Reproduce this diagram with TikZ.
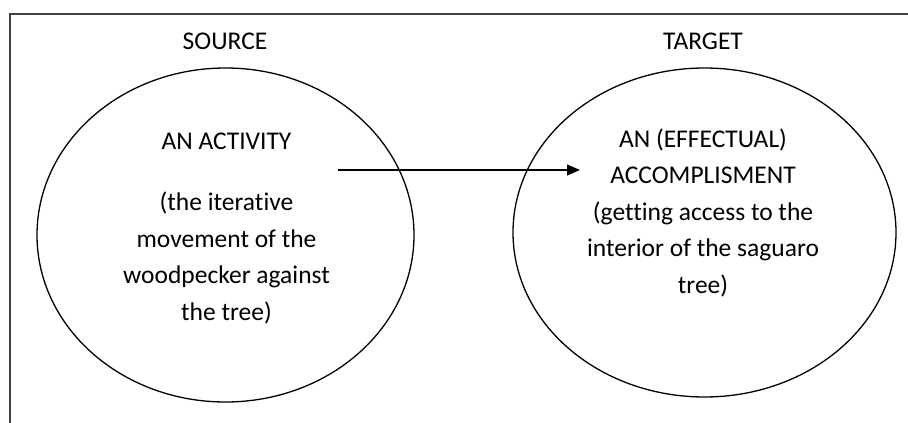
\documentclass[tikz,border=0pt]{standalone}
\usepackage{fontspec}
\setmainfont{Carlito}[Ligatures=NoCommon]
\usetikzlibrary{arrows.meta}

\begin{document}
\begin{tikzpicture}[x=1pt, y=-1pt,
    oval/.style={draw=black, line width=1.3pt},
    frame/.style={draw=black!75, line width=1.5pt},
    label/.style={anchor=base, inner sep=0pt, align=center, font=\fontsize{25.5}{36.4}\selectfont},
    link/.style={line width=1.2pt, -{Triangle[length=13pt,width=11pt]}},
  ]
        \useasboundingbox (0,0) rectangle (908,423);

        % Define the coordinates
        \coordinate (srcC) at (225.5,235);
        \coordinate (tgtC) at (704.5,232.5);
        \coordinate (corner) at (10,14);
        \coordinate (frameX) at (908,14);
        \coordinate (frameY) at (10,423);
        \coordinate (arrowS) at (338,170);
        \coordinate (arrowE) at (580,170);

        % Frame (only top and left edges show)
        \draw[frame] (frameY) -- (corner) -- (frameX);

        % Draw the two domains
        \draw[oval] (srcC) ellipse (188.5pt and 167pt);
        \draw[oval] (tgtC) ellipse (191.5pt and 164.5pt);

        % Draw the mapping
        \draw[link] (arrowS) -- (arrowE);

        % Headings
        \node[label] (srcHead) at (225,49) {SOURCE};
        \node[label] (tgtHead) at (703,49) {TARGET};

        % Texts in the domains (base = last line)
        \node[label] (srcName) at (226.5,149) {AN ACTIVITY};
        \node[label] (srcText) at (226.5,320) {(the iterative\\movement of the\\woodpecker against\\the tree)};
        \node[label] (tgtText) at (703,293) {AN (EFFECTUAL)\\ACCOMPLISMENT\\(getting access to the\\interior of the saguaro\\tree)};

    \end{tikzpicture}
\end{document}
